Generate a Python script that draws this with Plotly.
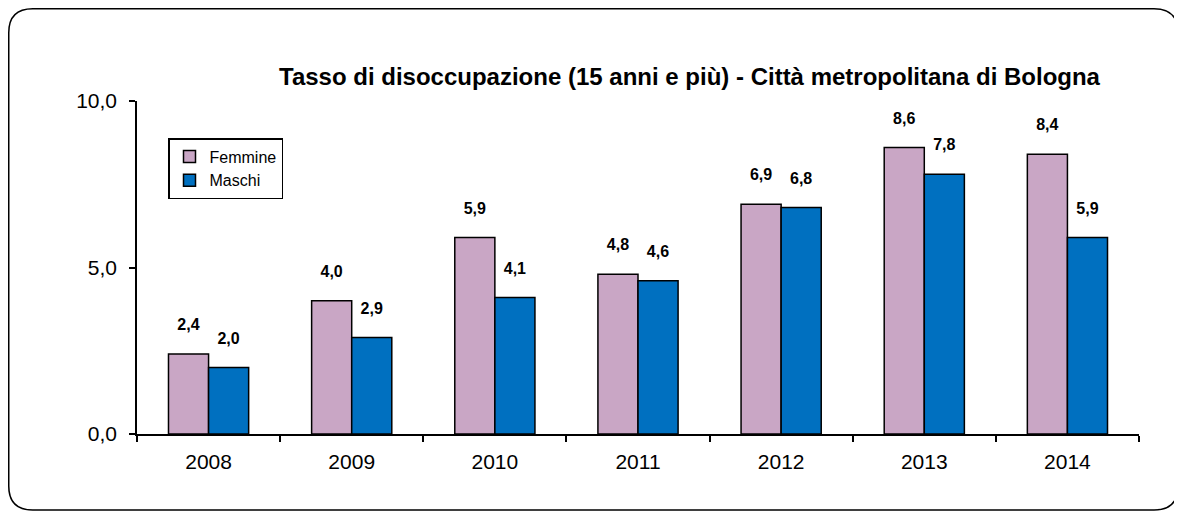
import plotly.graph_objects as go

years = ["2008", "2009", "2010", "2011", "2012", "2013", "2014"]
femmine = [2.4, 4.0, 5.9, 4.8, 6.9, 8.6, 8.4]
maschi = [2.0, 2.9, 4.1, 4.6, 6.8, 7.8, 5.9]
title_text = "<b>Tasso di disoccupazione (15 anni e più) - Città metropolitana di Bologna</b>"

FONT = "Liberation Sans, Arial, sans-serif"
LABEL_TPL = "<b>%{y:.1f}</b><br><span style='font-size:2px'> </span>"

fig = go.Figure()
fig.add_trace(go.Bar(
    x=years, y=femmine, name="Femmine",
    marker=dict(color="#C9A6C5", line=dict(color="black", width=1.5)),
    texttemplate=LABEL_TPL, textposition="outside",
    textfont=dict(size=16, color="black", family=FONT), cliponaxis=False,
))
fig.add_trace(go.Bar(
    x=years, y=maschi, name="Maschi",
    marker=dict(color="#0070C0", line=dict(color="black", width=1.5)),
    texttemplate=LABEL_TPL, textposition="outside",
    textfont=dict(size=16, color="black", family=FONT), cliponaxis=False,
))

# figure pixel geometry (page is offset by the 8px body margin)
W, H = 1174, 504
L, R, T, B = 129, 43, 93, 78
pw, ph = W - L - R, H - T - B

def px(x):
    return (x - L) / pw

def py(y):
    return (H - B - y) / ph

x0, x1, y0, y1, r = 0.75, 1170, 0.75, 502, 24
path = (
    f"M {px(x0 + r)} {py(y0)} L {px(x1 - r)} {py(y0)} "
    f"Q {px(x1)} {py(y0)} {px(x1)} {py(y0 + r)} "
    f"L {px(x1)} {py(y1 - r)} Q {px(x1)} {py(y1)} {px(x1 - r)} {py(y1)} "
    f"L {px(x0 + r)} {py(y1)} Q {px(x0)} {py(y1)} {px(x0)} {py(y1 - r)} "
    f"L {px(x0)} {py(y0 + r)} Q {px(x0)} {py(y0)} {px(x0 + r)} {py(y0)} Z"
)

fig.update_layout(
    width=W, height=H,
    margin=dict(l=L, r=R, t=T, b=B, pad=0),
    paper_bgcolor="white", plot_bgcolor="white",
    separators=",.",
    font=dict(family=FONT, size=20, color="black"),
    barmode="group", bargap=0.44, bargroupgap=0,
    showlegend=True,
    legend=dict(
        x=px(160), y=py(130), xanchor="left", yanchor="top",
        bordercolor="black", borderwidth=1.5, bgcolor="white",
        font=dict(size=16, family=FONT), itemwidth=30,
        tracegroupgap=0,
    ),
    shapes=[dict(type="path", xref="paper", yref="paper", path=path,
                 line=dict(color="black", width=1.5), layer="below")],
    annotations=[dict(
        text=title_text, xref="paper", yref="paper",
        x=px(269), y=py(68), xanchor="left", yanchor="middle",
        showarrow=False, font=dict(size=24, family=FONT, color="black"),
    )],
)
fig.update_xaxes(
    type="category", showline=True, linecolor="black", linewidth=1.5,
    ticks="outside", tickson="boundaries", ticklen=6, tickcolor="black",
    tickwidth=1.5, showgrid=False, ticklabelstandoff=8,
    tickfont=dict(size=21, family=FONT),
)
fig.update_yaxes(
    range=[0, 10], tickvals=[0, 5, 10], tickformat=".1f",
    showline=True, linecolor="black", linewidth=1.5,
    ticks="outside", ticklen=6, tickcolor="black", tickwidth=1.5,
    showgrid=False, zeroline=False, ticklabelstandoff=8,
    tickfont=dict(size=21, family=FONT),
)

fig.write_html("out.html")
